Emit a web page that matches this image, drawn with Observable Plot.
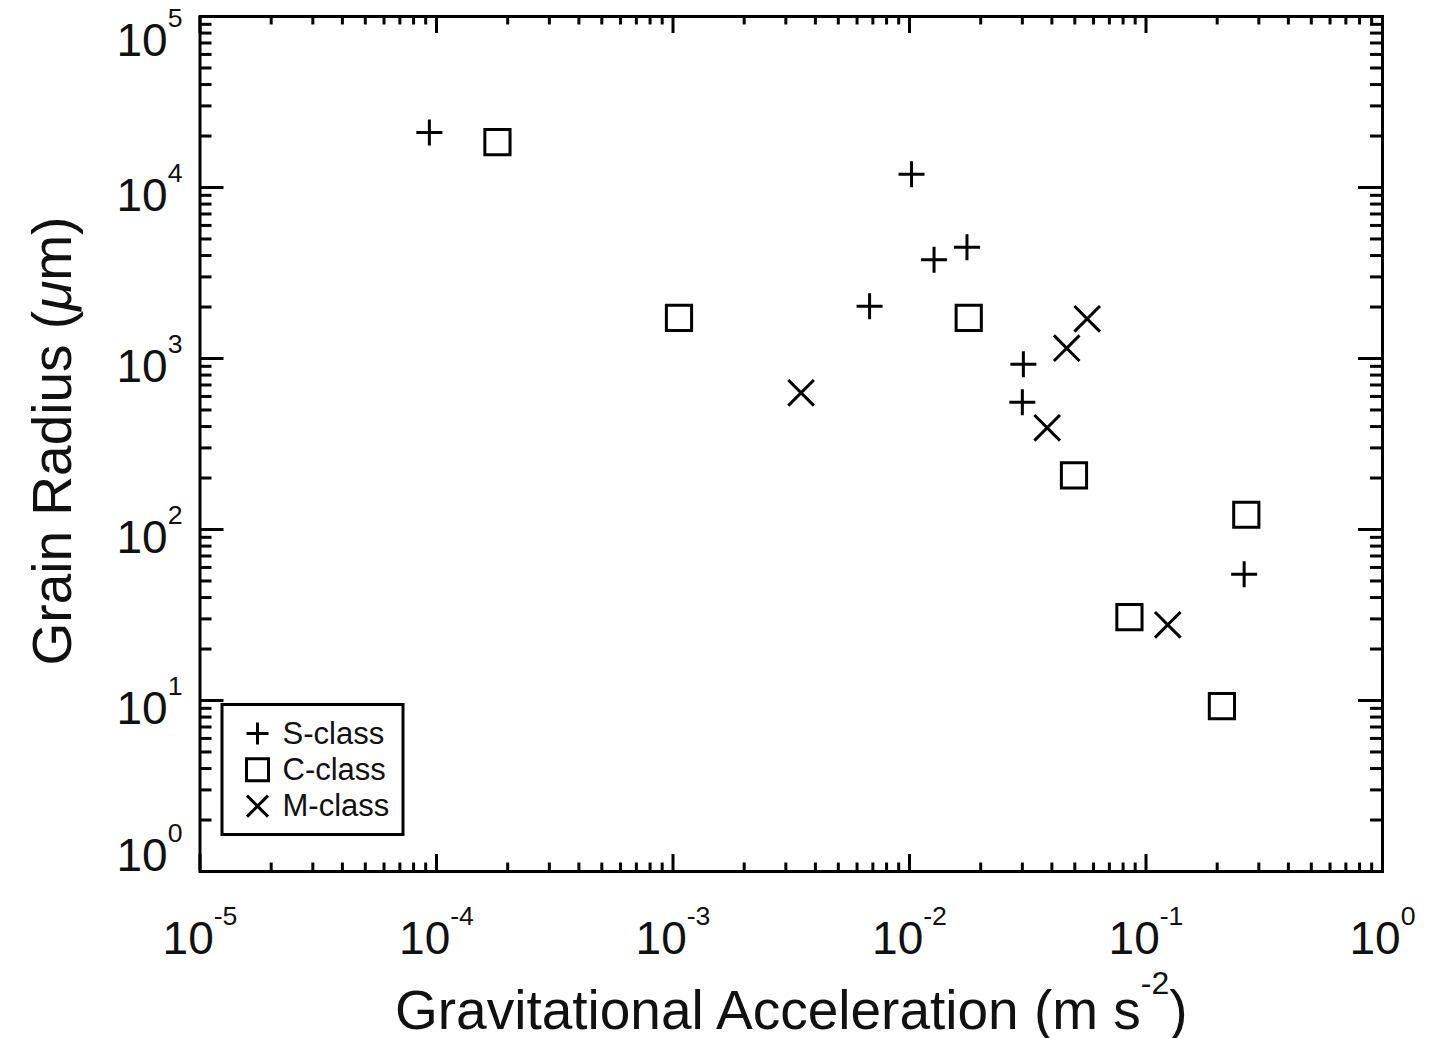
<!DOCTYPE html>
<html>
<head>
<meta charset="utf-8">
<script src="https://cdn.jsdelivr.net/npm/d3@7"></script>
<script src="https://cdn.jsdelivr.net/npm/@observablehq/plot@0.6"></script>
<style>
  html, body { margin: 0; padding: 0; background: #fff; }
  #chart svg { display: block; }
</style>
</head>
<body>
<div id="chart"></div>
<script>
// ---------------- data ----------------
const classes = ["S-class", "C-class", "M-class"];

const sAccel  = [9.33e-5, 0.0102, 0.0175, 0.0127, 0.00678, 0.0303, 0.0300, 0.260];
const sRadius = [21000, 11960, 4480, 3780, 2020, 926, 555, 54.8];

const cAccel  = [1.81e-4, 1.06e-3, 0.0178, 0.0496, 0.2655, 0.0851, 0.2094];
const cRadius = [18400, 1730, 1730, 207, 122, 30.7, 9.26];

const mAccel  = [3.48e-3, 0.0564, 0.0462, 0.0382, 0.1236];
const mRadius = [630, 1707, 1149, 393, 27.7];

const xTickExps = [-5, -4, -3, -2, -1, 0];
const yTickExps = [0, 1, 2, 3, 4, 5];

const xLabel = "Gravitational Acceleration (m s^{-2})";
const yLabel = "Grain Radius (~{μ}m)";

// ---------------- layout ----------------
const W = 1442, H = 1038;
const ML = 199.5, MR = 60, MT = 16, MB = 167;
const innerW = W - ML - MR, innerH = H - MT - MB;
const FONT = "'Liberation Sans', Arial, Helvetica, sans-serif";

// custom stroked symbols
const rad = size => Math.sqrt(size / Math.PI);
const symPlus = { draw(ctx, size) { const r = rad(size); ctx.moveTo(-r, 0); ctx.lineTo(r, 0); ctx.moveTo(0, -r); ctx.lineTo(0, r); } };
const symSquare = { draw(ctx, size) { const r = rad(size); ctx.moveTo(-r, -r); ctx.lineTo(r, -r); ctx.lineTo(r, r); ctx.lineTo(-r, r); ctx.closePath(); } };
const symTimes = { draw(ctx, size) { const r = rad(size); ctx.moveTo(-r, -r); ctx.lineTo(r, r); ctx.moveTo(r, -r); ctx.lineTo(-r, r); } };

const series = [
  { name: classes[0], xs: sAccel, ys: sRadius, symbol: symPlus,   r: 13,   lr: 11 },
  { name: classes[1], xs: cAccel, ys: cRadius, symbol: symSquare, r: 12.6, lr: 11 },
  { name: classes[2], xs: mAccel, ys: mRadius, symbol: symTimes,  r: 12.8, lr: 10.5 }
];

// tick positions
const majorX = xTickExps.map(e => 10 ** e);
const majorY = yTickExps.map(e => 10 ** e);
const minorOf = exps => {
  const out = [];
  for (let i = 0; i < exps.length - 1; i++) for (let k = 2; k <= 9; k++) out.push(k * 10 ** exps[i]);
  return out;
};
const minorX = minorOf(xTickExps);
const minorY = minorOf(yTickExps);

const line = { stroke: "black", strokeWidth: 3 };
const xMajLen = 17, xMinLen = 8.5, yMajLen = 24, yMinLen = 12;

const marks = [];

// data points
series.forEach(s => {
  marks.push(Plot.dot(s.xs, {
    x: d => d, y: (d, i) => s.ys[i],
    symbol: s.symbol, r: s.r, fill: "none", stroke: "black", strokeWidth: 3
  }));
});

// ticks (inward, all four sides)
marks.push(
  Plot.tickX(majorX, { x: d => d, insetTop: innerH - xMajLen, ...line }),
  Plot.tickX(majorX, { x: d => d, insetBottom: innerH - xMajLen, ...line }),
  Plot.tickX(minorX, { x: d => d, insetTop: innerH - xMinLen, ...line }),
  Plot.tickX(minorX, { x: d => d, insetBottom: innerH - xMinLen, ...line }),
  Plot.tickY(majorY, { y: d => d, insetRight: innerW - yMajLen, ...line }),
  Plot.tickY(majorY, { y: d => d, insetLeft: innerW - yMajLen, ...line }),
  Plot.tickY(minorY, { y: d => d, insetRight: innerW - yMinLen, ...line }),
  Plot.tickY(minorY, { y: d => d, insetLeft: innerW - yMinLen, ...line }),
  Plot.frame({ stroke: "black", strokeWidth: 3 })
);

// tick labels
marks.push(Plot.text(xTickExps, {
  x: e => 10 ** e, frameAnchor: "bottom", text: e => `10^{${e}}`,
  textAnchor: "middle", lineAnchor: "bottom", dy: 82, fontSize: 46, fill: "#111"
}));
const yLab = (filter, dy) => Plot.text(yTickExps, {
  filter, y: e => 10 ** e, frameAnchor: "left", text: e => `10^{${e}}`,
  textAnchor: "end", lineAnchor: "bottom", dx: -17.5, dy, fontSize: 46, fill: "#111"
});
marks.push(
  yLab(e => e > yTickExps[0] && e < yTickExps[yTickExps.length - 1], 23),
  yLab(e => e === yTickExps[yTickExps.length - 1], 39),
  yLab(e => e === yTickExps[0], -1)
);

// axis titles
marks.push(
  Plot.text([xLabel], { frameAnchor: "bottom", text: d => d, textAnchor: "middle", lineAnchor: "bottom", dy: 157, fontSize: 55, fill: "#111" }),
  Plot.text([yLabel], { frameAnchor: "left", text: d => d, rotate: -90, textAnchor: "middle", lineAnchor: "bottom", dx: -129.5, dy: -3, fontSize: 55, fill: "#111" })
);

// legend
marks.push(Plot.frame({
  fill: "white", stroke: "black", strokeWidth: 3,
  insetLeft: 22, insetRight: innerW - 22 - 181, insetTop: innerH - 37 - 130, insetBottom: 37
}));
series.forEach((s, i) => {
  marks.push(Plot.dot([s.name], {
    frameAnchor: "bottom-left", dx: 57.5, dy: -138 + i * 36.3,
    symbol: s.symbol, r: s.lr, fill: "none", stroke: "black", strokeWidth: 3
  }));
  marks.push(Plot.text([s.name], {
    frameAnchor: "bottom-left", text: d => d, dx: 82.5, dy: -128 + i * 36.3,
    textAnchor: "start", lineAnchor: "bottom", fontSize: 31, fill: "#111"
  }));
});

const svg = Plot.plot({
  width: W, height: H,
  marginLeft: ML, marginRight: MR, marginTop: MT, marginBottom: MB,
  x: { type: "log", domain: [1e-5, 1], axis: null },
  y: { type: "log", domain: [1, 1e5], axis: null },
  style: { fontFamily: FONT, background: "white", color: "black", overflow: "visible" },
  marks
});
document.getElementById("chart").appendChild(svg);

// rich text: ^{...} superscript, ~{...} italic
d3.select(svg).selectAll("text").each(function () {
  const s = this.textContent;
  if (!/[\^~]\{/.test(s)) return;
  const fs = parseFloat(getComputedStyle(this).fontSize) || 46;
  const parts = s.split(/(\^\{[^}]*\}|~\{[^}]*\})/).filter(p => p !== "");
  const el = d3.select(this);
  el.text(null);
  let raised = 0;
  const rise = 0.62 * fs, supSize = 0.58 * fs;
  parts.forEach(p => {
    const t = el.append("tspan");
    if (p.startsWith("^{")) {
      t.attr("font-size", supSize).attr("dy", -rise - raised).text(p.slice(2, -1));
      raised = -rise;
    } else if (p.startsWith("~{")) {
      t.attr("font-style", "italic").attr("dy", -raised).text(p.slice(2, -1));
      raised = 0;
    } else {
      t.attr("dy", -raised).text(p);
      raised = 0;
    }
  });
});
</script>
</body>
</html>
